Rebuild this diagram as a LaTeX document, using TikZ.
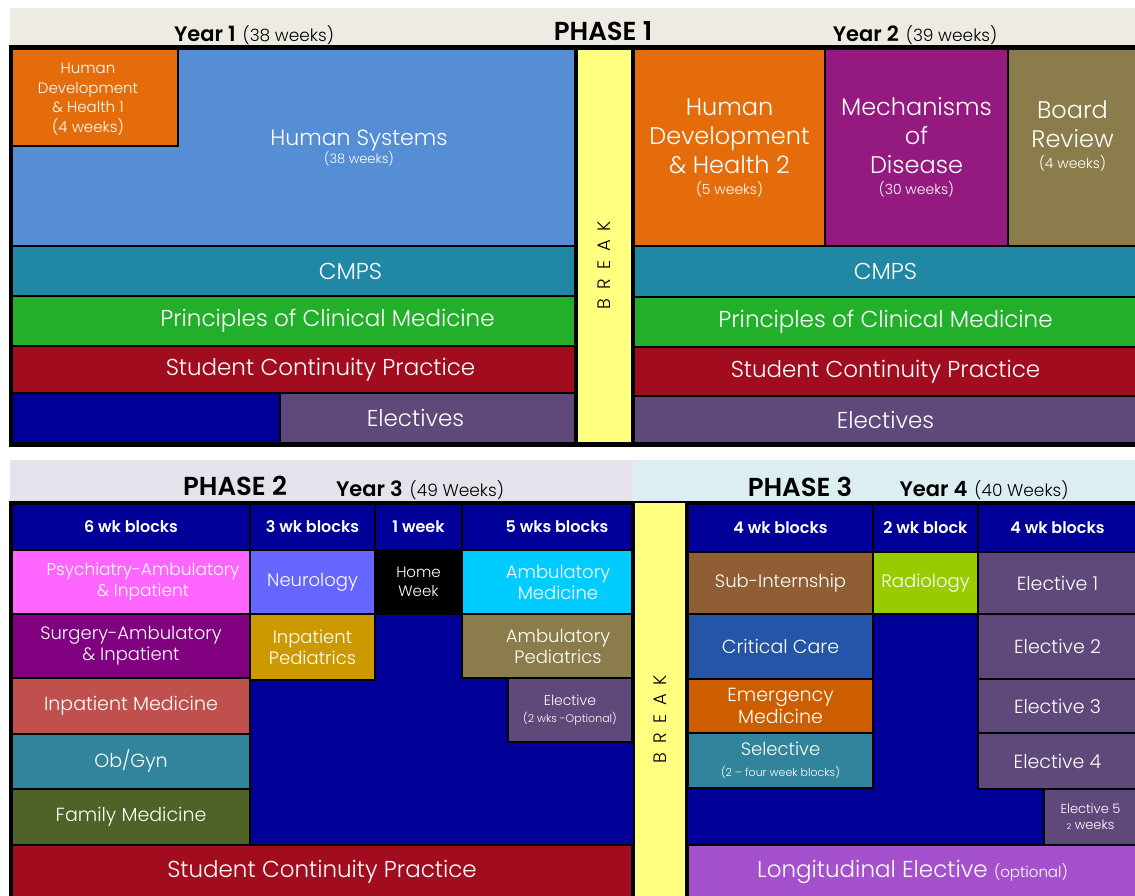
\documentclass[tikz,border=0pt]{standalone}
\usepackage{fontspec}
\setmainfont{Poppins}[UprightFont={* Light}]
\usetikzlibrary{positioning}

\definecolor{navy}{HTML}{000099}
\definecolor{hsblue}{HTML}{558ED5}
\definecolor{hdorange}{HTML}{E46C0A}
\definecolor{cmpsteal}{HTML}{2088A4}
\definecolor{pcmgreen}{HTML}{22B02A}
\definecolor{scpred}{HTML}{A10D1F}
\definecolor{elpurple}{HTML}{5F497A}
\definecolor{breakyel}{HTML}{FFFF80}
\definecolor{modpurple}{HTML}{941A80}
\definecolor{boardolive}{HTML}{8B7D4B}
\definecolor{psypink}{HTML}{FF66FF}
\definecolor{neuroblue}{HTML}{6666FF}
\definecolor{ambcyan}{HTML}{00CCFF}
\definecolor{surgpurple}{HTML}{800080}
\definecolor{pedgold}{HTML}{CC9900}
\definecolor{inmedred}{HTML}{C0504D}
\definecolor{obteal}{HTML}{31849B}
\definecolor{famgreen}{HTML}{4F6228}
\definecolor{subbrown}{HTML}{8F5E35}
\definecolor{radlime}{HTML}{99CC00}
\definecolor{critblue}{HTML}{2555A6}
\definecolor{emerorange}{HTML}{CC5E00}
\definecolor{longpurple}{HTML}{A550CC}
\definecolor{bandbeige}{HTML}{EEEBE3}
\definecolor{bandlav}{HTML}{E5E2EB}
\definecolor{bandblue}{HTML}{DDEEF3}

\newcommand{\fs}[2]{\fontsize{#1}{#2}\selectfont}
% box from (x1,y1) to (x2,y2), text follows
\newcommand{\blk}[6]{\node[cellbox,#6,minimum width={#4-#2},minimum height={#5-#3}] (#1) at ({(#2+#4)/2},{(#3+#5)/2})}

\tikzset{
  cellbox/.style={draw=black, line width=1.5pt, inner sep=1pt, text=white, align=center, font=\fs{18}{21}},
  headcell/.style={fill=navy, font=\bfseries\fs{16}{18}},
  bigrow/.style={font=\fs{23}{26}},
  celltext/.style={text=white, align=center, inner sep=0pt},
  bandtxt/.style={text=black, inner sep=0pt, anchor=base},
  brktxt/.style={text=black, rotate=90, font=\fs{18}{20}},
}
\newcommand{\brk}{B\hspace{9pt}R\hspace{9pt}E\hspace{9pt}A\hspace{9pt}K}

\begin{document}
\begin{tikzpicture}[x=1pt, y=-1pt]
\useasboundingbox (0,0) rectangle (1135,896);

% ---- phase 1 ----
\blk{band1}{10}{8}{1135}{47}{draw=none, fill=bandbeige} {};
\node[bandtxt] (yr1) at (254,42) {{\bfseries\fs{21}{22}Year 1}\hspace{7pt}{\fs{17}{18}(38 weeks)}};
\node[bandtxt] (ph1) at (603,41) {\bfseries\fs{26}{26}PHASE 1};
\node[bandtxt] (yr2) at (915,42) {{\bfseries\fs{21}{22}Year 2}\hspace{7pt}{\fs{17}{18}(39 weeks)}};

\blk{frame1}{10}{47}{1137}{445}{line width=3pt, fill=navy} {};
\blk{hs}{12}{49}{575}{246}{fill=hsblue} {};
\node[celltext, font=\fs{22}{26}] (hst) at (359,148) {Human Systems\\[-8pt]{\fs{13}{15}(38 weeks)}};
\blk{hd1}{12}{49}{178}{146}{fill=hdorange} {};
\node[celltext, font=\fs{15}{19.5}] (hd1t) at (88,99) {Human\\Development\\\& Health 1\\(4 weeks)};
\blk{cmps1}{12}{246}{575}{296}{fill=cmpsteal, bigrow} {\hspace*{114pt}CMPS};
\blk{pcm1}{12}{296}{575}{346}{fill=pcmgreen, bigrow} {\hspace*{68pt}Principles of Clinical Medicine};
\blk{scp1}{12}{346}{575}{393}{fill=scpred, bigrow} {\hspace*{54pt}Student Continuity Practice};
\blk{nv1}{12}{393}{280}{443}{fill=navy} {};
\blk{el1}{280}{393}{575}{443}{fill=elpurple, bigrow} {Electives\hspace*{24pt}};
\blk{brk1}{577}{49}{632}{443}{fill=breakyel} {};
\node[brktxt] (brk1t) at (604,265) {\brk};

\blk{hd2}{634}{49}{825}{246}{fill=hdorange, font=\fs{24}{29}} {Human\\Development\\\& Health 2\\[-8pt]{\fs{14}{16}(5 weeks)}};
\blk{mod}{825}{49}{1008}{246}{fill=modpurple, font=\fs{24}{29}} {Mechanisms\\of\\Disease\\[-8pt]{\fs{14}{16}(30 weeks)}};
\blk{brd}{1008}{49}{1137}{246}{fill=boardolive} {};
\node[celltext, font=\fs{24}{29}] (brdt) at ([yshift=12pt]brd.center) {Board\\Review\\[-8pt]{\fs{14}{16}(4 weeks)}};
\blk{cmps2}{634}{246}{1137}{297}{fill=cmpsteal, bigrow} {CMPS};
\blk{pcm2}{634}{297}{1137}{347}{fill=pcmgreen, bigrow} {Principles of Clinical Medicine};
\blk{scp2}{634}{347}{1137}{396}{fill=scpred, bigrow} {Student Continuity Practice};
\blk{el2}{634}{396}{1137}{443}{fill=elpurple, bigrow} {Electives};

% ---- phase 2 ----
\blk{band2}{10}{460}{632}{502}{draw=none, fill=bandlav} {};
\blk{band3}{632}{460}{1135}{502}{draw=none, fill=bandblue} {};
\node[bandtxt] (ph2) at (235,495) {\bfseries\fs{26}{26}PHASE 2};
\node[bandtxt] (yr3) at (420,496) {{\bfseries\fs{21}{22}Year 3}\hspace{7pt}{\fs{17}{18}(49 Weeks)}};
\node[bandtxt] (ph3) at (800,496) {\bfseries\fs{26}{26}PHASE 3};
\node[bandtxt] (yr4) at (984,496) {{\bfseries\fs{21}{22}Year 4}\hspace{7pt}{\fs{17}{18}(40 Weeks)}};

\blk{frame2}{10}{502}{634}{898}{line width=3pt, fill=navy} {};
\blk{h6}{12}{504}{250}{550}{headcell} {6 wk blocks};
\blk{h3}{250}{504}{375}{550}{headcell} {3 wk blocks};
\blk{h1}{375}{504}{462}{550}{headcell} {1 week};
\blk{h5}{462}{504}{632}{550}{headcell} {\hspace*{20pt}5 wks blocks};
\blk{psy}{12}{550}{250}{614}{fill=psypink, font=\fs{17}{21}} {\hspace*{24pt}Psychiatry-Ambulatory\\\hspace*{24pt}\& Inpatient};
\blk{neu}{250}{550}{375}{614}{fill=neuroblue} {Neurology};
\blk{home}{375}{550}{462}{614}{fill=black, font=\fs{15}{19}} {Home\\Week};
\blk{ambm}{462}{550}{632}{614}{fill=ambcyan} {\hspace*{22pt}Ambulatory\\\hspace*{22pt}Medicine};
\blk{surg}{12}{614}{250}{678}{fill=surgpurple} {Surgery-Ambulatory\\\& Inpatient};
\blk{inped}{250}{614}{375}{680}{fill=pedgold} {Inpatient\\Pediatrics};
\blk{ambp}{462}{614}{632}{678}{fill=boardolive} {\hspace*{22pt}Ambulatory\\\hspace*{22pt}Pediatrics};
\blk{elo}{508}{678}{632}{742}{fill=elpurple, font=\fs{14}{17}} {Elective\\{\fs{11}{13}(2 wks -Optional)}};
\blk{inmed}{12}{678}{250}{734}{fill=inmedred, font=\fs{19}{22}} {Inpatient Medicine};
\blk{obgyn}{12}{734}{250}{789}{fill=obteal, font=\fs{19}{22}} {Ob/Gyn};
\blk{fam}{12}{789}{250}{845}{fill=famgreen, font=\fs{19}{22}} {Family Medicine};
\blk{scp3}{12}{845}{632}{898}{fill=scpred, bigrow} {Student Continuity Practice};

\blk{brk2}{634}{502}{686}{898}{fill=breakyel} {};
\node[brktxt] (brk2t) at (660,719) {\brk};

% ---- phase 3 ----
\blk{frame3}{686}{502}{1137}{898}{line width=3pt, fill=navy} {};
\blk{h4a}{688}{504}{873}{552}{headcell} {4 wk blocks};
\blk{h2}{873}{504}{978}{552}{headcell} {2 wk block};
\blk{h4b}{978}{504}{1137}{552}{headcell} {4 wk blocks};
\blk{sub}{688}{552}{873}{614}{fill=subbrown} {Sub-Internship};
\blk{rad}{873}{552}{978}{614}{fill=radlime} {Radiology};
\blk{e1}{978}{552}{1137}{614}{fill=elpurple, font=\fs{19}{22}} {Elective 1};
\blk{crit}{688}{614}{873}{679}{fill=critblue, font=\fs{19}{22}} {Critical Care};
\blk{e2}{978}{614}{1137}{679}{fill=elpurple, font=\fs{19}{22}} {Elective 2};
\blk{emer}{688}{679}{873}{733}{fill=emerorange, font=\fs{19}{22}} {Emergency\\Medicine};
\blk{e3}{978}{679}{1137}{733}{fill=elpurple, font=\fs{19}{22}} {Elective 3};
\blk{sel}{688}{733}{873}{788}{fill=obteal} {Selective\\{\fs{11}{13}(2 – four week blocks)}};
\blk{e4}{978}{733}{1137}{789}{fill=elpurple, font=\fs{19}{22}} {Elective 4};
\blk{e5}{1044}{789}{1137}{845}{fill=elpurple, font=\fs{13}{16}} {Elective 5\\{\fs{8}{10}2} weeks};
\blk{long}{688}{845}{1137}{898}{fill=longpurple, bigrow} {Longitudinal Elective {\fs{15}{18}(optional)}};
\end{tikzpicture}
\end{document}
